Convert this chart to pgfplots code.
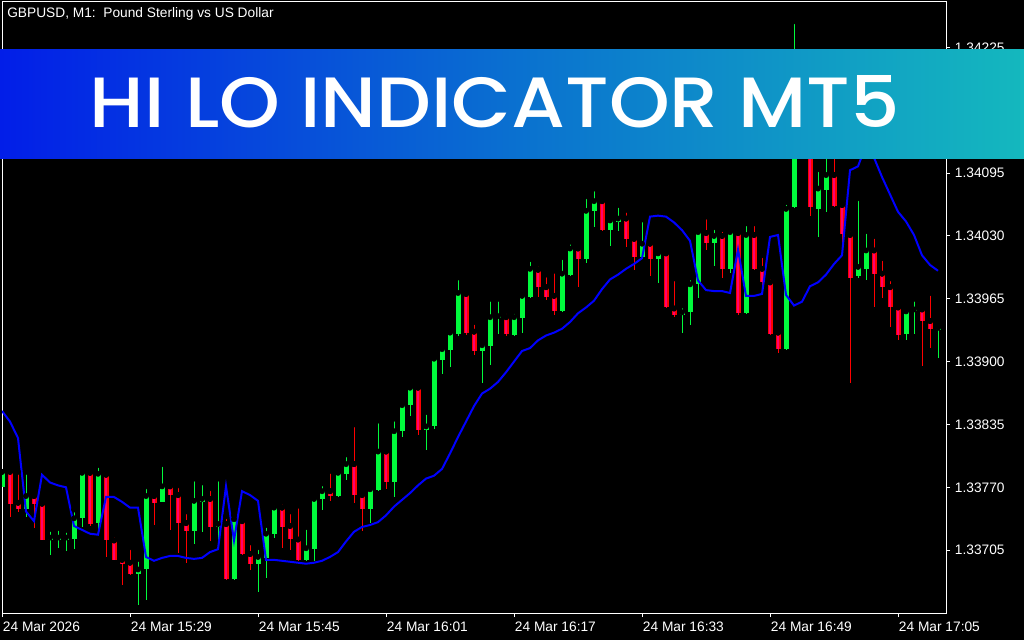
\documentclass[border=0pt]{standalone}
\usepackage{fontspec}
\setmainfont{Liberation Sans}
\newfontfamily\bannerfont{Poppins Medium}
\usepackage{graphicx}
\usepackage{pgfplots}
\pgfplotsset{compat=1.18}
\usepackage{pgfplotstable}
\definecolor{cgreen}{RGB}{0,250,60}
\definecolor{cred}{RGB}{255,0,0}
\definecolor{cpink}{RGB}{255,0,110}
\definecolor{bannerL}{RGB}{2,30,232}
\definecolor{bannerM}{RGB}{10,112,208}
\definecolor{bannerR}{RGB}{20,184,190}

% bullish candles (GBPUSD M1), x = minute index from 15:13
\pgfplotstableread{
x o h l c
0 1.33770 1.33786 1.33770 1.33786
3 1.33748 1.33786 1.33739 1.33761
6 1.33716 1.33727 1.33700 1.33718
7 1.33716 1.33728 1.33707 1.33718
8 1.33716 1.33726 1.33704 1.33718
9 1.33717 1.33747 1.33706 1.33738
10 1.33738 1.33787 1.33729 1.33785
12 1.33733 1.33793 1.33726 1.33784
17 1.33680 1.33696 1.33648 1.33685
18 1.33685 1.33771 1.33653 1.33761
20 1.33755 1.33794 1.33755 1.33771
24 1.33725 1.33779 1.33711 1.33756
25 1.33755 1.33775 1.33724 1.33758
27 1.33729 1.33779 1.33715 1.33732
29 1.33675 1.33741 1.33674 1.33737
32 1.33691 1.33708 1.33662 1.33698
33 1.33697 1.33731 1.33676 1.33722
34 1.33722 1.33754 1.33718 1.33749
38 1.33695 1.33729 1.33694 1.33707
39 1.33706 1.33763 1.33694 1.33758
40 1.33758 1.33774 1.33747 1.33766
42 1.33761 1.33788 1.33760 1.33785
43 1.33784 1.33804 1.33778 1.33794
46 1.33748 1.33769 1.33733 1.33768
47 1.33767 1.33839 1.33766 1.33807
49 1.33776 1.33841 1.33760 1.33828
50 1.33828 1.33860 1.33822 1.33855
51 1.33855 1.33875 1.33844 1.33873
53 1.33829 1.33848 1.33809 1.33833
54 1.33833 1.33907 1.33830 1.33903
55 1.33902 1.33915 1.33887 1.33913
56 1.33912 1.33932 1.33894 1.33930
57 1.33929 1.33987 1.33926 1.33971
60 1.33911 1.33919 1.33878 1.33917
61 1.33916 1.33965 1.33897 1.33946
62 1.33945 1.33965 1.33929 1.33947
64 1.33928 1.33952 1.33927 1.33946
65 1.33945 1.33970 1.33930 1.33968
66 1.33967 1.34006 1.33966 1.33996
70 1.33952 1.34008 1.33951 1.33991
71 1.33990 1.34024 1.33989 1.34017
73 1.34006 1.34071 1.34002 1.34056
74 1.34056 1.34079 1.34039 1.34066
76 1.34036 1.34049 1.34020 1.34046
77 1.34044 1.34062 1.34035 1.34048
80 1.34008 1.34047 1.34007 1.34022
82 1.34006 1.34015 1.33981 1.34012
85 1.33948 1.33958 1.33930 1.33951
86 1.33951 1.33987 1.33938 1.33980
87 1.33980 1.34035 1.33966 1.34034
89 1.34023 1.34039 1.33999 1.34030
91 1.33996 1.34035 1.33992 1.34034
93 1.33950 1.34043 1.33949 1.34031
98 1.33913 1.34065 1.33912 1.34058
99 1.34060 1.34252 1.34059 1.34160
102 1.34058 1.34099 1.34029 1.34079
103 1.34078 1.34119 1.34055 1.34093
107 1.33989 1.34069 1.33986 1.33998
108 1.33996 1.34035 1.33984 1.34015
113 1.33929 1.33957 1.33922 1.33952
114 1.33952 1.33965 1.33929 1.33954
117 1.33933 1.33939 1.33904 1.33935
}\upcandles

% bearish candles
\pgfplotstableread{
x o h l c
1 1.33786 1.33787 1.33739 1.33753
2 1.33754 1.33786 1.33744 1.33748
4 1.33761 1.33766 1.33728 1.33753
5 1.33753 1.33754 1.33715 1.33716
11 1.33785 1.33790 1.33730 1.33732
13 1.33783 1.33784 1.33698 1.33715
14 1.33715 1.33721 1.33695 1.33695
15 1.33695 1.33699 1.33669 1.33691
16 1.33692 1.33708 1.33679 1.33680
19 1.33761 1.33764 1.33731 1.33754
21 1.33771 1.33772 1.33726 1.33762
22 1.33762 1.33772 1.33702 1.33733
23 1.33733 1.33745 1.33692 1.33725
26 1.33758 1.33769 1.33714 1.33729
28 1.33732 1.33740 1.33674 1.33675
30 1.33735 1.33736 1.33700 1.33701
31 1.33701 1.33713 1.33684 1.33691
35 1.33749 1.33755 1.33707 1.33729
36 1.33730 1.33745 1.33705 1.33717
37 1.33716 1.33751 1.33694 1.33695
41 1.33766 1.33787 1.33756 1.33761
44 1.33794 1.33835 1.33754 1.33762
45 1.33762 1.33763 1.33725 1.33748
48 1.33807 1.33808 1.33768 1.33776
52 1.33873 1.33877 1.33824 1.33829
58 1.33970 1.33971 1.33928 1.33930
59 1.33931 1.33941 1.33907 1.33911
63 1.33946 1.33952 1.33926 1.33929
67 1.33995 1.34001 1.33967 1.33977
68 1.33977 1.33990 1.33964 1.33967
69 1.33968 1.33994 1.33948 1.33952
72 1.34017 1.34019 1.33977 1.34006
75 1.34066 1.34068 1.34035 1.34036
78 1.34048 1.34057 1.34019 1.34027
79 1.34027 1.34028 1.33995 1.34008
81 1.34022 1.34027 1.33989 1.34006
83 1.34012 1.34013 1.33955 1.33956
84 1.33955 1.33986 1.33946 1.33948
88 1.34033 1.34050 1.34015 1.34023
90 1.34030 1.34037 1.33987 1.33996
92 1.34033 1.34035 1.33948 1.33950
94 1.34031 1.34043 1.33995 1.33996
95 1.33996 1.34010 1.33977 1.33982
96 1.33982 1.33988 1.33928 1.33929
97 1.33930 1.33931 1.33909 1.33913
100 1.34160 1.34176 1.34119 1.34140
101 1.34119 1.34140 1.34051 1.34060
104 1.34093 1.34124 1.34060 1.34061
105 1.34062 1.34063 1.34024 1.34032
106 1.34031 1.34037 1.33878 1.33987
109 1.34015 1.34030 1.33956 1.33991
110 1.33991 1.34007 1.33966 1.33977
111 1.33977 1.33986 1.33936 1.33956
112 1.33956 1.33957 1.33922 1.33928
115 1.33954 1.33956 1.33895 1.33942
116 1.33942 1.33971 1.33914 1.33934
}\dncandles

% Hi Lo indicator line
\pgfplotstableread{
x v
0 1.33849
1 1.33838
2 1.33821
3 1.33745
4 1.33735
5 1.33783
6 1.33775
7 1.33772
8 1.33770
9 1.33730
10 1.33726
11 1.33722
12 1.33721
13 1.33760
14 1.33760
15 1.33755
16 1.33749
17 1.33749
18 1.33698
19 1.33694
20 1.33697
21 1.33699
22 1.33699
23 1.33697
24 1.33696
25 1.33697
26 1.33703
27 1.33706
28 1.33771
29 1.33715
30 1.33766
31 1.33762
32 1.33756
33 1.33695
34 1.33695
35 1.33694
36 1.33693
37 1.33692
38 1.33691
39 1.33692
40 1.33694
41 1.33698
42 1.33703
43 1.33714
44 1.33724
45 1.33729
46 1.33731
47 1.33734
48 1.33741
49 1.33750
50 1.33757
51 1.33764
52 1.33772
53 1.33779
54 1.33782
55 1.33789
56 1.33805
57 1.33822
58 1.33838
59 1.33854
60 1.33867
61 1.33872
62 1.33879
63 1.33889
64 1.33900
65 1.33911
66 1.33914
67 1.33922
68 1.33927
69 1.33930
70 1.33934
71 1.33941
72 1.33950
73 1.33956
74 1.33963
75 1.33975
76 1.33985
77 1.33990
78 1.33996
79 1.34001
80 1.34007
81 1.34050
82 1.34051
83 1.34050
84 1.34044
85 1.34036
86 1.34025
87 1.33984
88 1.33974
89 1.33973
90 1.33973
91 1.33971
92 1.34016
93 1.33968
94 1.33968
95 1.33970
96 1.34029
97 1.34031
98 1.33969
99 1.33958
100 1.33962
101 1.33978
102 1.33982
103 1.33990
104 1.34001
105 1.34010
106 1.34098
107 1.34102
108 1.34124
109 1.34111
110 1.34091
111 1.34073
112 1.34055
113 1.34045
114 1.34031
115 1.34010
116 1.34000
117 1.33994
}\hiloline

\begin{document}
\begin{tikzpicture}
\useasboundingbox (0,0) rectangle (768pt,480pt);
\fill[black] (0,0) rectangle (768pt,480pt);
\begin{axis}[
  at={(1.5pt,20.25pt)}, anchor=south west,
  scale only axis, width=708pt, height=458.25pt,
  xmin=0, xmax=118, ymin=1.33640, ymax=1.34272,
  axis line style={white, line width=0.75pt},
  tick style={white, line width=0.75pt},
  major tick length=3pt,
  tick align=outside,
  xtick pos=left, ytick pos=right,
  yticklabel pos=right,
  scaled y ticks=false,
  xtick={0,16,32,48,64,80,96,112},
  xticklabels={24 Mar 2026,24 Mar 15:29,24 Mar 15:45,24 Mar 16:01,24 Mar 16:17,24 Mar 16:33,24 Mar 16:49,24 Mar 17:05},
  ytick={1.33705,1.33770,1.33835,1.33900,1.33965,1.34030,1.34095,1.34160,1.34225},
  yticklabels={1.33705,1.33770,1.33835,1.33900,1.33965,1.34030,1.34095,1.34160,1.34225},
  ticklabel style={font=\fontsize{10.3}{12}\selectfont, text=white},
  xticklabel style={anchor=north west, inner sep=0pt, xshift=0.5pt, yshift=-3.5pt},
  yticklabel style={anchor=west, inner sep=0pt, xshift=3.5pt},
]
% bullish wicks and bodies
\addplot[only marks, mark=none, forget plot,
  error bars/.cd, y dir=minus, y explicit, error mark=none,
  error bar style={draw=cgreen, line width=0.75pt}]
  table[x=x, y=h, y error minus expr={\thisrow{h}-\thisrow{l}}] {\upcandles};
\addplot[only marks, mark=none, forget plot,
  error bars/.cd, y dir=minus, y explicit, error mark=none,
  error bar style={draw=cgreen, line width=3.75pt}]
  table[x=x, y=c, y error minus expr={\thisrow{c}-\thisrow{o}}] {\upcandles};
% bearish wicks and bodies
\addplot[only marks, mark=none, forget plot,
  error bars/.cd, y dir=minus, y explicit, error mark=none,
  error bar style={draw=cred, line width=0.75pt}]
  table[x=x, y=h, y error minus expr={\thisrow{h}-\thisrow{l}}] {\dncandles};
\addplot[only marks, mark=none, forget plot,
  error bars/.cd, y dir=minus, y explicit, error mark=none,
  error bar style={draw=cred, line width=3.75pt}]
  table[x=x, y=o, y error minus expr={\thisrow{o}-\thisrow{c}}] {\dncandles};
\addplot[only marks, mark=none, forget plot,
  error bars/.cd, y dir=minus, y explicit, error mark=none,
  error bar style={draw=cpink, line width=2.1pt}]
  table[x=x, y=o, y error minus expr={\thisrow{o}-\thisrow{c}}] {\dncandles};
% Hi Lo line
\addplot[color={rgb,255:red,0;green,0;blue,255}, line width=1.5pt, mark=none] table[x=x, y=v] {\hiloline};
\end{axis}
\node[anchor=base west, inner sep=0pt, text=white, font=\fontsize{10.3}{12}\selectfont] at (5.25pt,467pt) {GBPUSD, M1:\ \ Pound Sterling vs US Dollar};
\shade[left color=bannerL, right color=bannerR, middle color=bannerM] (0,360.75pt) rectangle (768pt,443pt);
\node[anchor=base, inner sep=0pt, text=white] at (371.25pt,384.5pt) {\resizebox{607.5pt}{39pt}{\bannerfont HI LO INDICATOR MT5}};
\end{tikzpicture}
\end{document}
